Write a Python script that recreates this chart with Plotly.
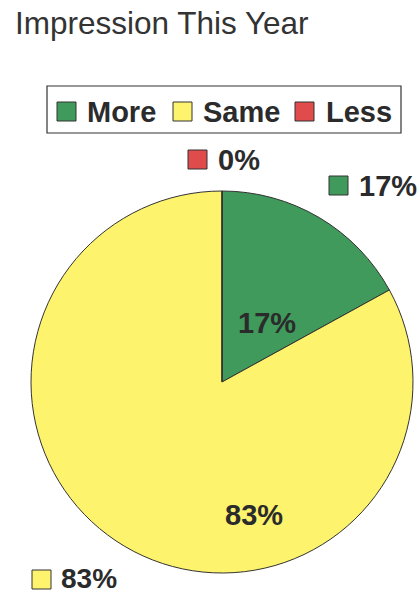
import plotly.graph_objects as go

# ---- data ----
categories = ["More", "Same", "Less"]
values = [17, 83, 0]
colors = ["#3f9a5b", "#fdf36c", "#e04b4b"]
title_text = "Impression This Year"

W, H = 419, 595
total = sum(values)
pct_labels = [f"{round(v / total * 100)}%" for v in values]


def px(x):
    return x / W


def py(y):
    return 1 - y / H


FONT = "Liberation Sans, Arial, sans-serif"
TXT = "#2b2b2b"

fig = go.Figure(
    go.Pie(
        labels=categories,
        values=values,
        marker=dict(colors=colors, line=dict(color="#333333", width=1)),
        sort=False,
        direction="clockwise",
        rotation=0,
        textinfo="none",
        hoverinfo="label+percent",
        showlegend=False,
        domain=dict(x=[px(31), px(413)], y=[py(573), py(191)]),
    )
)

shapes = []
annotations = []

# legend box
shapes.append(dict(type="rect", xref="paper", yref="paper",
                   x0=px(47), x1=px(401), y0=py(133), y1=py(86),
                   line=dict(color="#333333", width=1.2), fillcolor="white", layer="below"))

legend_sq_x = [57, 173, 295]
legend_txt_x = [85, 201, 324]
for i, cat in enumerate(categories):
    shapes.append(dict(type="rect", xref="paper", yref="paper",
                       x0=px(legend_sq_x[i]), x1=px(legend_sq_x[i] + 19),
                       y0=py(121), y1=py(102),
                       line=dict(color="#333333", width=1), fillcolor=colors[i]))
    annotations.append(dict(xref="paper", yref="paper", x=px(legend_txt_x[i]), y=py(112),
                            xanchor="left", yanchor="middle", showarrow=False,
                            text=f"<b>{cat}</b>", font=dict(family=FONT, size=29, color=TXT)))

# outside labels with swatches: (square x, square y top, text x, text center y, font size)
out_pos = {0: (329, 176, 358, 186, 29), 1: (32, 570, 60, 578, 28), 2: (188, 150, 217, 160, 29)}
for i, (sx, sy, tx, ty, fs) in out_pos.items():
    shapes.append(dict(type="rect", xref="paper", yref="paper",
                       x0=px(sx), x1=px(sx + 19), y0=py(sy + 19), y1=py(sy),
                       line=dict(color="#333333", width=1), fillcolor=colors[i]))
    annotations.append(dict(xref="paper", yref="paper", x=px(tx), y=py(ty),
                            xanchor="left", yanchor="middle", showarrow=False, borderpad=0,
                            text=f"<b>{pct_labels[i]}</b>", font=dict(family=FONT, size=fs, color=TXT)))

# inside labels
in_pos = {0: (267, 323), 1: (254, 515)}
for i, (cx, cy) in in_pos.items():
    annotations.append(dict(xref="paper", yref="paper", x=px(cx), y=py(cy),
                            xanchor="center", yanchor="middle", showarrow=False,
                            text=f"<b>{pct_labels[i]}</b>", font=dict(family=FONT, size=29, color=TXT)))

fig.update_layout(
    width=W, height=H,
    margin=dict(l=0, r=0, t=0, b=0),
    paper_bgcolor="white",
    plot_bgcolor="white",
    title=dict(text=title_text, x=px(15), xanchor="left", xref="paper",
               y=py(12), yanchor="top", yref="paper",
               font=dict(family=FONT, size=31.5, color="#333333")),
    shapes=shapes,
    annotations=annotations,
)

fig.write_html("out.html",
               config={"displayModeBar": False},
               post_script="document.body.style.margin='0';document.body.style.overflow='hidden';")
